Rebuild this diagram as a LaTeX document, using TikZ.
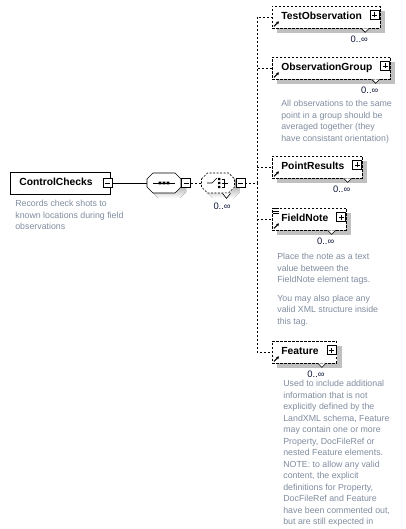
\documentclass[tikz,border=0pt]{standalone}
\usepackage{fontspec}
\setmainfont{Liberation Sans}
\usetikzlibrary{arrows.meta,positioning,calc,shadows}
\definecolor{ink}   {HTML}{000000}
\definecolor{navy}  {HTML}{10183A}
\definecolor{shade} {HTML}{C0C0C0}
\definecolor{slate} {HTML}{7F8C9E}

\begin{document}
\begin{tikzpicture}[x=1pt,y=-1pt,line width=0.7pt,
  shad/.style={drop shadow={shadow xshift=5pt,shadow yshift=-5pt,fill=shade,opacity=1}},
  elbox/.style={draw=ink,fill=white,anchor=west,minimum height=22pt,inner xsep=9pt,inner ysep=0pt,
                text height=7.4pt,text depth=1.6pt,font=\fontsize{10.3}{12}\selectfont\bfseries},
  optbox/.style={elbox,shad,dash pattern=on 2.5pt off 1.5pt},
  compo/.style={minimum height=20pt,inner sep=0pt},
  minus/.style={draw=ink,fill=white,solid,minimum size=9pt,inner sep=0pt,
                path picture={\draw[line width=0.7pt] ([xshift=-2.5pt]path picture bounding box.center)
                  -- ([xshift=2.5pt]path picture bounding box.center);}},
  plus/.style={draw=ink,fill=white,solid,minimum size=9pt,inner sep=0pt,
                path picture={\draw[line width=0.7pt] ([xshift=-2.5pt]path picture bounding box.center)
                  -- ([xshift=2.5pt]path picture bounding box.center)
                  ([yshift=-2.5pt]path picture bounding box.center)
                  -- ([yshift=2.5pt]path picture bounding box.center);}},
  conn/.style={draw=ink,dash pattern=on 2pt off 2pt},
  notch/.style={draw=ink,fill=white,solid,line width=0.6pt},
  refarrow/.style={draw=ink,solid,line width=1pt,-{Stealth[length=3pt,width=3.2pt]}},
  mult/.style={font=\fontsize{9.4}{10}\selectfont,text=navy,inner sep=0pt,anchor=east},
  desc/.style={font=\fontsize{8.8}{11.5}\selectfont,text=slate,align=left,anchor=north west,inner sep=0pt}]
 \useasboundingbox (0,0) rectangle (406,529);

 % root element
 \node[elbox] (cc) at (10,183) {ControlChecks\hspace*{9pt}};
 \node[minus] (ccm) at ([xshift=-3pt]cc.east) {};
 \node[desc] (ccn) at (15,200) {Records check shots to\\known locations during field\\observations};

 % sequence
 \node[compo,minimum width=34pt] (seq) at (164,183) {};
 \fill[shade] (152,184) -- (158,178) -- (180,178) -- (186,184) -- (186,192) -- (180,198) -- (158,198) -- (152,192) -- cycle;
 \draw[fill=white] (147,179) -- (153,173) -- (175,173) -- (181,179) -- (181,187) -- (175,193) -- (153,193) -- (147,187) -- cycle;
 \node[minus] (seqm) at (186,183) {};
 \draw (ccm.east) -- (seq.west);
 \draw ([xshift=-11pt]seq.center) -- ([xshift=11pt]seq.center);
 \fill[ink] ([shift={(-5.3,-1.3)}]seq.center) rectangle ++(2.6,2.6)
            ([shift={(-1.3,-1.3)}]seq.center) rectangle ++(2.6,2.6)
            ([shift={(2.7,-1.3)}]seq.center) rectangle ++(2.6,2.6);

 % choice 0..oo
 \node[compo,minimum width=33pt] (ch) at (218,183) {};
 \fill[shade] (206.5,184) -- (212.5,178) -- (233.5,178) -- (239.5,184) -- (239.5,192) -- (233.5,198) -- (212.5,198) -- (206.5,192) -- cycle;
 \draw[fill=white,dash pattern=on 2pt off 1.5pt] (201.5,179) -- (207.5,173) -- (228.5,173) -- (234.5,179) -- (234.5,187) -- (228.5,193) -- (207.5,193) -- (201.5,187) -- cycle;
 \node[minus] (chm) at (240.5,183) {};
 \draw[conn] (seqm.east) -- (ch.west);
 \draw[notch] ([xshift=4.5pt]ch.south) -- ++(4,5) -- ++(4,-5);
 \draw ([xshift=-11pt]ch.center) -- ++(5,0) -- ++(5,-5);
 \fill[ink] ([shift={(0,-5.2)}]ch.center) rectangle ++(2.4,2.4)
            ([shift={(0,-1.2)}]ch.center) rectangle ++(2.4,2.4)
            ([shift={(0,2.8)}]ch.center) rectangle ++(2.4,2.4);
 \draw ([shift={(3.5,-4)}]ch.center) -- ++(3,0) -- ++(0,8) -- ++(-3,0)
       ([shift={(3.5,0)}]ch.center) -- ++(6,0);
 \node[mult] (chmult) at (231,206) {0..∞};
 \coordinate (bus) at (257,183);
 \draw[conn] (chm.east) -- (bus);

 % children
 \node[optbox] (tobs) at (272,17) {TestObservation\hspace*{9pt}};
 \node[optbox] (obsg) at (272,68) {ObservationGroup\hspace*{9pt}};
 \node[optbox] (ptres) at (272,167) {PointResults\hspace*{9pt}};
 \node[optbox] (fnote) at (272,219) {FieldNote\hspace*{9pt}};
 \node[optbox] (feat) at (272,352) {Feature\hspace*{9pt}};

 \node[plus] (tobsp) at ([shift={(-5.5,-2)}]tobs.east) {};
 \node[plus] (obsgp) at ([shift={(-5.5,-2)}]obsg.east) {};
 \node[plus] (ptresp) at ([shift={(-5.5,-2)}]ptres.east) {};
 \node[plus] (fnotep) at ([shift={(-5.5,-2)}]fnote.east) {};
 \node[plus] (featp) at ([shift={(-5.5,-2)}]feat.east) {};

 \draw[conn] (bus) |- (tobs.west);
 \draw[conn] (bus) |- (obsg.west);
 \draw[conn] (bus) |- (ptres.west);
 \draw[conn] (bus) |- (fnote.west);
 \draw[conn] (bus) |- (feat.west);

 \draw[notch] ([xshift=-19pt]tobs.south east) -- ++(4,4) -- ++(4,-4);
 \draw[notch] ([xshift=-19pt]obsg.south east) -- ++(4,4) -- ++(4,-4);
 \draw[notch] ([xshift=-19pt]ptres.south east) -- ++(4,4) -- ++(4,-4);
 \draw[notch] ([xshift=-19pt]fnote.south east) -- ++(4,4) -- ++(4,-4);
 \draw[notch] ([xshift=-19pt]feat.south east) -- ++(4,4) -- ++(4,-4);

 \draw[refarrow] ([shift={(2,-2)}]tobs.south west) -- ++(5,-5);
 \draw[refarrow] ([shift={(2,-2)}]obsg.south west) -- ++(5,-5);
 \draw[refarrow] ([shift={(2,-2)}]ptres.south west) -- ++(5,-5);
 \draw[refarrow] ([shift={(2,-2)}]fnote.south west) -- ++(5,-5);
 \draw[refarrow] ([shift={(2,-2)}]feat.south west) -- ++(5,-5);
 \draw[line width=0.6pt] ([shift={(1,1)}]fnote.north west) -- ++(6,0)
                         ([shift={(1,3.5)}]fnote.north west) -- ++(6,0)
                         ([shift={(1,6)}]fnote.north west) -- ++(6,0);

 \node[mult] (tobsm) at ([shift={(-12,11)}]tobs.south east) {0..∞};
 \node[mult] (obsgm) at ([shift={(-12,11)}]obsg.south east) {0..∞};
 \node[mult] (ptresm) at ([shift={(-12,11)}]ptres.south east) {0..∞};
 \node[mult] (fnotem) at ([shift={(-12,11)}]fnote.south east) {0..∞};
 \node[mult] (featm) at ([shift={(-12,11)}]feat.south east) {0..∞};

 % annotations
 \node[desc] (obsgn) at (281,100) {All observations to the same\\point in a group should be\\averaged together (they\\have consistant orientation)};
 \node[desc] (fnoten) at (277,253) {Place the note as a text\\value between the\\FieldNote element tags.\\[7pt]You may also place any\\valid XML structure inside\\this tag.};
 \node[desc] (featn) at (283,380) {Used to include additional\\information that is not\\explicitly defined by the\\LandXML schema, Feature\\may contain one or more\\Property, DocFileRef or\\nested Feature elements.\\NOTE: to allow any valid\\content, the explicit\\definitions for Property,\\DocFileRef and Feature\\have been commented out,\\but are still expected in};
\end{tikzpicture}
\end{document}
